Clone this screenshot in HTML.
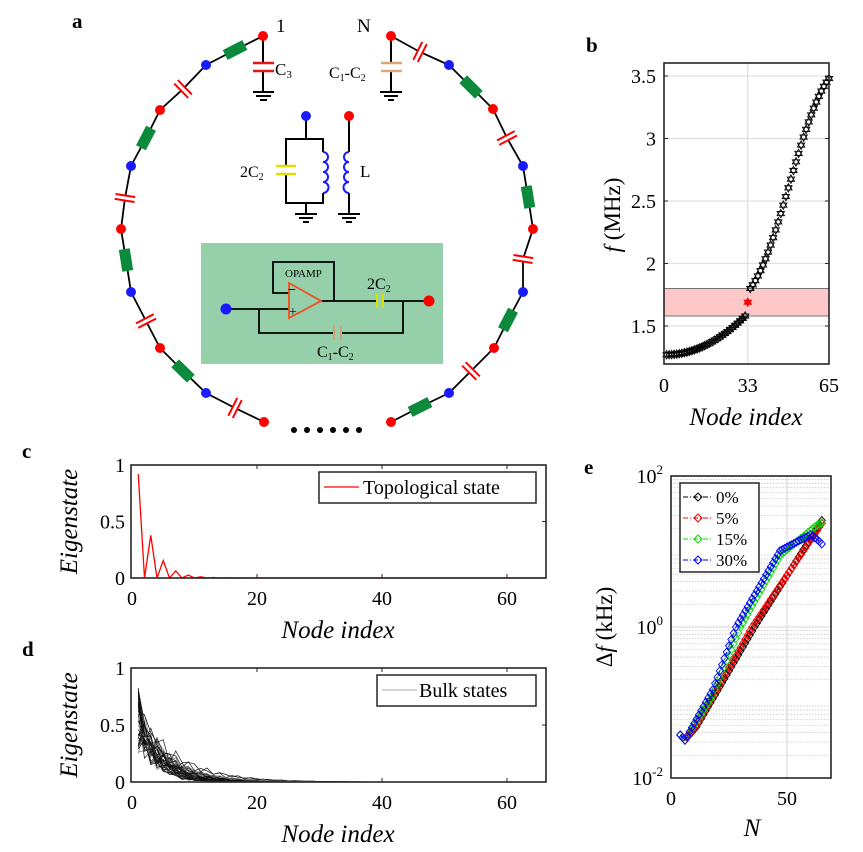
<!DOCTYPE html>
<html><head><meta charset="utf-8"><style>
body{margin:0;background:#fff}
svg{display:block}
text{font-family:"Liberation Serif",serif;fill:#000}
.b{font-weight:bold;font-size:21px}
.t{font-size:20px}
.i{font-style:italic;font-size:25px}
</style></head><body>
<svg id="s" width="863" height="852" viewBox="0 0 863 852" xmlns="http://www.w3.org/2000/svg">
<rect width="863" height="852" fill="#fff"/>
<text class="b" x="72" y="28">a</text>
<text class="b" x="586" y="52">b</text>
<text class="b" x="22" y="458">c</text>
<text class="b" x="22" y="656">d</text>
<text class="b" x="584" y="474">e</text>

<g id="ring"></g>
<g fill="#000"><circle cx="294" cy="430" r="3"/><circle cx="307" cy="430" r="3"/><circle cx="320" cy="430" r="3"/><circle cx="333" cy="430" r="3"/><circle cx="346" cy="430" r="3"/><circle cx="359" cy="430" r="3"/></g>
<text x="276" y="32" font-size="19">1</text>
<text x="357" y="32" font-size="19">N</text>
<g stroke="#000" stroke-width="2" fill="none">
<line x1="263" y1="36" x2="263" y2="63"/><line x1="263" y1="71" x2="263" y2="92"/>
<line x1="253" y1="92" x2="274" y2="92"/><line x1="256" y1="96" x2="271" y2="96"/><line x1="260" y1="100" x2="267" y2="100"/>
<line x1="391" y1="36" x2="391" y2="63"/><line x1="391" y1="71" x2="391" y2="92"/>
<line x1="380" y1="92" x2="402" y2="92"/><line x1="384" y1="96" x2="398" y2="96"/><line x1="388" y1="100" x2="394" y2="100"/>
</g>
<g stroke="#e8141c" stroke-width="2.4"><line x1="253" y1="63" x2="274" y2="63"/><line x1="253" y1="71" x2="274" y2="71"/></g>
<g stroke="#d4aa7c" stroke-width="2.4"><line x1="381" y1="63" x2="402" y2="63"/><line x1="381" y1="71" x2="402" y2="71"/></g>
<circle cx="263" cy="36" r="5" fill="#f00"/><circle cx="391" cy="36" r="5" fill="#f00"/>
<text x="275" y="75" font-size="17">C<tspan font-size="11" dy="3">3</tspan></text>
<text x="329" y="78" font-size="16">C<tspan font-size="10" dy="3">1</tspan><tspan dy="-3">-C</tspan><tspan font-size="10" dy="3">2</tspan></text>

<g stroke="#000" stroke-width="2" fill="none">
<line x1="306" y1="116" x2="306" y2="139"/>
<polyline points="286,166 286,139 323,139 323,152"/>
<polyline points="286,174 286,203 323,203 323,193"/>
<line x1="306" y1="203" x2="306" y2="214"/>
<line x1="295" y1="214" x2="317" y2="214"/><line x1="299" y1="218" x2="313" y2="218"/><line x1="303" y1="222" x2="309" y2="222"/>
<line x1="349" y1="116" x2="349" y2="152"/><line x1="349" y1="193" x2="349" y2="214"/>
<line x1="338" y1="214" x2="360" y2="214"/><line x1="342" y1="218" x2="356" y2="218"/><line x1="346" y1="222" x2="352" y2="222"/>
</g>
<g stroke="#dede00" stroke-width="2.4"><line x1="276" y1="166" x2="296" y2="166"/><line x1="276" y1="174" x2="296" y2="174"/></g>
<g stroke="#1a1aff" stroke-width="2" fill="none">
<path d="M323,152 a5,5 0 1 1 0,10 a5,5 0 1 1 0,10 a5,5 0 1 1 0,10 a5,5 0 1 1 0,11"/>
<path d="M349,152 a5,5 0 1 0 0,10 a5,5 0 1 0 0,10 a5,5 0 1 0 0,10 a5,5 0 1 0 0,11"/>
</g>
<circle cx="306" cy="116" r="5" fill="#1a1aff"/><circle cx="349" cy="116" r="5" fill="#f00"/>
<text x="240" y="177" font-size="16">2C<tspan font-size="10" dy="3">2</tspan></text>
<text x="360" y="177" font-size="17">L</text>

<rect x="201" y="243" width="242" height="121" fill="#96d0aa"/>
<g stroke="#000" stroke-width="1.8" fill="none">
<polyline points="289,293 273,293 273,262 334,262 334,301"/>
<line x1="226" y1="309" x2="289" y2="309"/>
<polyline points="321,301 377,301"/><polyline points="383,301 429,301"/>
<polyline points="259,309 259,333 334,333"/><polyline points="341,333 403,333 403,301"/>
</g>
<polygon points="289,283 289,318 321,301" fill="none" stroke="#f05020" stroke-width="1.8"/>
<text x="288" y="294" font-size="14" font-weight="bold">−</text>
<text x="289" y="316" font-size="14">+</text>
<g stroke="#e0e000" stroke-width="2"><line x1="377" y1="294" x2="377" y2="308"/><line x1="383" y1="294" x2="383" y2="308"/></g>
<g stroke="#d4a07a" stroke-width="2"><line x1="334" y1="326" x2="334" y2="340"/><line x1="341" y1="326" x2="341" y2="340"/></g>
<text x="285" y="277" font-size="11">OPAMP</text>
<text x="367" y="289" font-size="16">2C<tspan font-size="10" dy="3">2</tspan></text>
<text x="317" y="357" font-size="16">C<tspan font-size="10" dy="3">1</tspan><tspan dy="-3">-C</tspan><tspan font-size="10" dy="3">2</tspan></text>
<circle cx="226" cy="309" r="5.5" fill="#1a1aff"/><circle cx="429" cy="301" r="5.5" fill="#f00"/>

<g id="pb"></g><g id="pc"></g><g id="pd"></g><g id="pe"></g>
</svg>
<script>
var NS="http://www.w3.org/2000/svg";
function el(p,t,a,txt){var e=document.createElementNS(NS,t);for(var k in a)e.setAttribute(k,a[k]);if(txt!==undefined)e.textContent=txt;document.getElementById(p).appendChild(e);return e;}
var L=[[263,36],[235,50],[206,65],[183,89],[160,110],[146,138],[131,166],[125,198],[121,229],[126,260],[131,292],[146,321],[160,348],[183,371],[206,393],[235,408],[264,422]];
var R=[[391,36],[420,52],[449,65],[471,87],[493,109],[507,138],[523,166],[528,197],[533,229],[523,259],[523,292],[508,320],[494,348],[471,371],[449,393],[420,407],[391,422]];
function drawSide(P){el("ring","polyline",{points:P.map(p=>p.join(",")).join(" "),fill:"none",stroke:"#000","stroke-width":1.8});}
drawSide(L);drawSide(R);
function comp(P,i,type){
 var a=P[i-1],b=P[i+1],c=P[i];var ang=Math.atan2(b[1]-a[1],b[0]-a[0])*180/Math.PI;
 var g=el("ring","g",{transform:"translate("+c[0]+","+c[1]+") rotate("+ang+")"});
 function sub(t,at){var e=document.createElementNS(NS,t);for(var k in at)e.setAttribute(k,at[k]);g.appendChild(e);}
 if(type=="L"){sub("rect",{x:-11,y:-5.5,width:22,height:11,fill:"#0a8a3a"});}
 else{sub("rect",{x:-3,y:-6,width:6,height:12,fill:"#fff"});sub("line",{x1:-2.5,y1:-10,x2:-2.5,y2:10,stroke:"#f00","stroke-width":2});sub("line",{x1:2.5,y1:-10,x2:2.5,y2:10,stroke:"#f00","stroke-width":2});}
}
[1,5,9,13].forEach(i=>{comp(L,i,"L");comp(R,i,"C");});
[3,7,11,15].forEach(i=>{comp(L,i,"C");comp(R,i,"L");});
[L,R].forEach(P=>{for(var i=2;i<P.length;i+=2){var col=(i%4==0)?"#f00":"#1a1aff";el("ring","circle",{cx:P[i][0],cy:P[i][1],r:5,fill:col});}});

(function(){
 var x0=664,x1=829,y0=63,y1=364;
 function X(i){return x0+i*(x1-x0)/65;} function Y(f){return 326-(f-1.5)*125;}
 [1.5,2,2.5,3,3.5].forEach(v=>el("pb","line",{x1:x0,x2:x1,y1:Y(v),y2:Y(v),stroke:"#e0e0e0","stroke-width":1.3}));
 el("pb","line",{x1:X(33),x2:X(33),y1:y0,y2:y1,stroke:"#e0e0e0","stroke-width":1.3});
 el("pb","rect",{x:x0,y:Y(1.80),width:x1-x0,height:Y(1.58)-Y(1.80),fill:"#ffc8c8",stroke:"#555","stroke-width":0.8});
 function star(x,y,c){var s=4.2;var p1=[[x,y-s],[x+s*0.87,y+s*0.5],[x-s*0.87,y+s*0.5]],p2=[[x,y+s],[x+s*0.87,y-s*0.5],[x-s*0.87,y-s*0.5]];
  [p1,p2].forEach(p=>el("pb","polygon",{points:p.map(q=>q.join(",")).join(" "),fill:c=="r"?"#f00":"none",stroke:c=="r"?"#f00":"#000","stroke-width":0.9}));}
 for(var i=1;i<=32;i++){var t=(i-1)/31;star(X(i),Y(1.27+0.31*t*t),"k");}
 for(var i=34;i<=65;i++){var t=(i-34)/31;var g=0.5*t+0.5*(1-Math.cos(Math.PI*t))/2;star(X(i),Y(1.80+1.68*g),"k");}
 star(X(33),Y(1.69),"r");
 el("pb","rect",{x:x0,y:y0,width:x1-x0,height:y1-y0,fill:"none",stroke:"#262626","stroke-width":1.6});
 [1.5,2,2.5,3,3.5].forEach(v=>{el("pb","line",{x1:x0,x2:x0+4,y1:Y(v),y2:Y(v),stroke:"#262626"});el("pb","line",{x1:x1,x2:x1-4,y1:Y(v),y2:Y(v),stroke:"#262626"});el("pb","text",{x:x0-8,y:Y(v)+7,"text-anchor":"end","class":"t"},String(v));});
 [0,33,65].forEach(v=>el("pb","text",{x:X(v),y:392,"text-anchor":"middle","class":"t"},String(v)));
 el("pb","text",{x:746,y:425,"text-anchor":"middle","class":"i"},"Node index");
 el("pb","text",{transform:"translate(620,215) rotate(-90)","text-anchor":"middle",style:"font-size:23px"}).innerHTML='<tspan font-style="italic">f</tspan> (MHz)';
})();

function panel(id,y0,y1,draw,leg,legx){
 var x0=131,x1=546;function X(n){return 132+n*6.25;}function Y(v){return y1-v*(y1-y0);}
 draw(X,Y);
 el(id,"rect",{x:x0,y:y0,width:x1-x0,height:y1-y0,fill:"none",stroke:"#262626","stroke-width":1.6});
 [20,40,60].forEach(v=>{el(id,"line",{x1:X(v),x2:X(v),y1:y1,y2:y1-4,stroke:"#262626"});el(id,"line",{x1:X(v),x2:X(v),y1:y0,y2:y0+4,stroke:"#262626"});});
 [0,20,40,60].forEach(v=>el(id,"text",{x:X(v),y:y1+27,"text-anchor":"middle","class":"t"},String(v)));
 [[0,"0"],[0.5,"0.5"],[1,"1"]].forEach(a=>{el(id,"line",{x1:x1,x2:x1-4,y1:Y(a[0]),y2:Y(a[0]),stroke:"#262626"});el(id,"text",{x:x0-6,y:Y(a[0])+7,"text-anchor":"end","class":"t"},a[1]);});
 el(id,"text",{x:338,y:y1+60,"text-anchor":"middle","class":"i"},"Node index");
 el(id,"text",{transform:"translate(77,"+(y0+y1)/2+") rotate(-90)","text-anchor":"middle","class":"i"},"Eigenstate");
 el(id,"rect",{x:legx,y:y0+7,width:536-legx,height:31,fill:"#fff",stroke:"#262626","stroke-width":1.5});
 leg(legx,y0+22);
}
panel("pc",465,578,function(X,Y){
 var p=[];for(var n=1;n<=66;n++){var v=(n%2==1)?0.92*Math.pow(0.41,(n-1)/2):0;p.push(X(n)+","+Y(v));}
 el("pc","polyline",{points:p.join(" "),fill:"none",stroke:"#f00","stroke-width":1.3});
},function(lx,ly){el("pc","line",{x1:lx+5,x2:lx+40,y1:ly,y2:ly,stroke:"#f00","stroke-width":1.3});el("pc","text",{x:lx+44,y:ly+7,"class":"t"},"Topological state");},319);
panel("pd",668,782,function(X,Y){
 var seed=7;function r(){seed=(seed*9301+49297)%233280;return seed/233280;}
 for(var k=0;k<40;k++){var p=[];var tau=2.5+r()*4;var ph=r()*3;var a0=0.5+r()*0.3;
  for(var n=1;n<=66;n++){var v=a0*Math.exp(-(n-1)/tau)*(0.5+0.5*Math.abs(Math.cos(n*1.3+ph+k*0.2)));if(n==1)v=0.25+r()*0.58;p.push(X(n)+","+Y(v));}
  el("pd","polyline",{points:p.join(" "),fill:"none",stroke:k%4==0?"#777":"#111","stroke-width":0.7});}
},function(lx,ly){el("pd","line",{x1:lx+5,x2:lx+40,y1:ly,y2:ly,stroke:"#aaa","stroke-width":1});el("pd","text",{x:lx+42,y:ly+7,"class":"t"},"Bulk states");},377);

(function(){
 var x0=671,x1=831,y0=476,y1=778;function X(n){return 671+n*2.32;}function Y(l){return 627-l*75.5;}
 for(var d=-2;d<2;d++)for(var m=2;m<=9;m++){var y=Y(d+Math.log10(m));el("pe","line",{x1:x0,x2:x1,y1:y,y2:y,stroke:"#c8c8c8","stroke-width":0.8,"stroke-dasharray":"1.5,1.5"});}
 el("pe","line",{x1:x0,x2:x1,y1:Y(0),y2:Y(0),stroke:"#ddd","stroke-width":1.3});
 el("pe","line",{x1:X(50),x2:X(50),y1:y0,y2:y1,stroke:"#ddd","stroke-width":1.3});
 function interp(P){return function(n){for(var i=0;i<P.length-1;i++){if(n<=P[i+1][0]){var t=(n-P[i][0])/(P[i+1][0]-P[i][0]);return P[i][1]+t*(P[i+1][1]-P[i][1]);}}return P[P.length-1][1];};}
 function ser(f,c){var p=[];for(var n=4;n<=65;n++)p.push([X(n),Y(f(n))]);
  el("pe","polyline",{points:p.map(q=>q.join(",")).join(" "),fill:"none",stroke:c,"stroke-width":1,"stroke-dasharray":"5,2,1,2"});
  p.forEach(q=>el("pe","polygon",{points:(q[0])+","+(q[1]-4)+" "+(q[0]+3.5)+","+q[1]+" "+q[0]+","+(q[1]+4)+" "+(q[0]-3.5)+","+q[1],fill:"none",stroke:c,"stroke-width":0.9}));}
 ser(interp([[4,-1.43],[6,-1.5],[11,-1.32],[36,0],[65,1.41]]),"#000");
 ser(interp([[4,-1.43],[6,-1.5],[11,-1.3],[35,0],[65,1.37]]),"#f00");
 ser(interp([[4,-1.43],[6,-1.5],[18,-0.9],[30,0],[47,0.95],[63,1.35],[65,1.38]]),"#0d0");
 ser(interp([[4,-1.43],[6,-1.5],[18,-0.83],[28,0],[47,1.01],[60,1.22],[63,1.16],[65,1.1]]),"#00f");
 el("pe","rect",{x:x0,y:y0,width:x1-x0,height:y1-y0,fill:"none",stroke:"#262626","stroke-width":1.6});
 [[2,"2"],[0,"0"],[-2,"-2"]].forEach(a=>{var t=el("pe","text",{x:x0-8,y:Y(a[0])+7,"text-anchor":"end","class":"t"});t.innerHTML='10<tspan font-size="13" dy="-9">'+a[1]+'</tspan>';});
 [0,50].forEach(v=>el("pe","text",{x:X(v),y:805,"text-anchor":"middle","class":"t"},String(v)));
 el("pe","text",{x:752,y:836,"text-anchor":"middle","class":"i"},"N");
 el("pe","text",{transform:"translate(612,627) rotate(-90)","text-anchor":"middle",style:"font-size:23px"}).innerHTML='Δ<tspan font-style="italic">f</tspan> (kHz)';
 el("pe","rect",{x:680,y:483,width:79,height:89,fill:"#fff",stroke:"#262626","stroke-width":1.5});
 [["#000","0%"],["#f00","5%"],["#0d0","15%"],["#00f","30%"]].forEach((a,i)=>{var y=497+i*21;
  el("pe","line",{x1:683,x2:713,y1:y,y2:y,stroke:a[0],"stroke-width":1,"stroke-dasharray":"5,2,1,2"});
  el("pe","polygon",{points:"698,"+(y-4)+" 702,"+y+" 698,"+(y+4)+" 694,"+y,fill:"none",stroke:a[0]});
  el("pe","text",{x:716,y:y+6,style:"font-size:17px"},a[1]);});
})();
</script>
</body></html>
